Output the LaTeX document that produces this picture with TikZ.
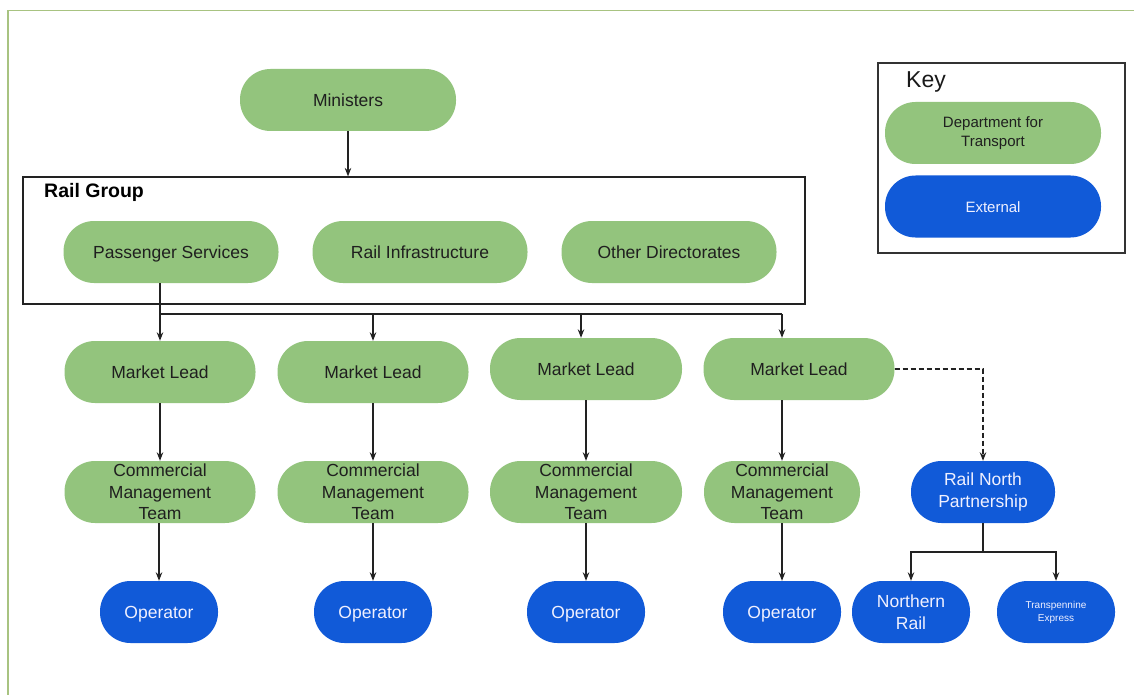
\documentclass[tikz,border=0pt]{standalone}
\usepackage{fontspec}
\setmainfont{Liberation Sans}
\usetikzlibrary{arrows.meta,calc}
\definecolor{dftgreen}{HTML}{93C47D}
\definecolor{extblue}{HTML}{115AD8}
\definecolor{framegreen}{HTML}{A8C381}
\definecolor{ink}{HTML}{222222}
\newcommand{\fsz}[2]{\fontsize{#1}{#2}\selectfont}
\tikzset{
  pill/.style={rectangle, rounded corners=30.5pt, draw=none, inner sep=0pt,
    align=center, minimum height=62pt},
  dft/.style={pill, fill=dftgreen, text=black!88, font=\fsz{17.5}{21.5}},
  ext/.style={pill, fill=extblue, text=white!94!blue, font=\fsz{17.5}{21.5}},
  oneline/.style={text height=14.4pt, text depth=1.9pt},
  conn/.style={draw=ink, line width=1.2pt, -{Stealth[length=8.5pt,width=6.5pt]}},
  plain/.style={draw=ink, line width=1.2pt},
  boxframe/.style={rectangle, draw=ink, line width=1.2pt, inner sep=0pt},
}
\begin{document}
\begin{tikzpicture}[x=1pt,y=-1pt]
  \fill[white] (0,0) rectangle (1134,695);
  \useasboundingbox (0,0) rectangle (1134,695);
  % page frame
  \draw[framegreen, line width=1.5pt] (8,695) -- (8,10.5) -- (1134,10.5);

  % top level
  \node[dft, oneline, minimum width=216pt] (min) at (348,100) {Ministers};

  % Rail Group container
  \node[boxframe, minimum width=782pt, minimum height=127pt] (rg) at (414,240.5) {};
  \node[anchor=west, font=\bfseries\fsz{19.5}{22}, text=black, inner sep=0pt] (rgl) at (44,192) {Rail Group};
  \node[dft, oneline, minimum width=215pt] (ps) at (171,252) {Passenger Services};
  \node[dft, oneline, minimum width=215pt] (ri) at (420,252) {Rail Infrastructure};
  \node[dft, oneline, minimum width=215pt] (od) at (669,252) {Other Directorates};

  % market leads
  \node[dft, oneline, minimum width=191pt] (ml1) at (160,372) {Market Lead};
  \node[dft, oneline, minimum width=191pt] (ml2) at (373,372) {Market Lead};
  \node[dft, oneline, minimum width=192pt] (ml3) at (586,369) {Market Lead};
  \node[dft, oneline, minimum width=191pt] (ml4) at (799,369) {Market Lead};

  % commercial management teams
  \node[dft, minimum width=191pt] (cm1) at (160,492) {Commercial\\Management\\Team};
  \node[dft, minimum width=191pt] (cm2) at (373,492) {Commercial\\Management\\Team};
  \node[dft, minimum width=192pt] (cm3) at (586,492) {Commercial\\Management\\Team};
  \node[dft, minimum width=156pt] (cm4) at (782,492) {Commercial\\Management\\Team};

  % operators
  \node[ext, oneline, minimum width=118pt] (op1) at (159,612) {Operator};
  \node[ext, oneline, minimum width=118pt] (op2) at (373,612) {Operator};
  \node[ext, oneline, minimum width=118pt] (op3) at (586,612) {Operator};
  \node[ext, oneline, minimum width=118pt] (op4) at (782,612) {Operator};

  % Rail North branch
  \node[ext, minimum width=144pt] (rnp) at (983,492) {Rail North\\Partnership};
  \node[ext, minimum width=118pt] (nr) at (911,612) {Northern\\Rail};
  \node[ext, minimum width=118pt, font=\fsz{10}{13}] (te) at (1056,612) {Transpennine\\Express};

  % key
  \node[boxframe, draw=black!80, minimum width=247pt, minimum height=190pt] (key) at (1001.5,158) {};
  \node[anchor=west, font=\fsz{23}{25}, text=black!90, inner sep=0pt] (keyt) at (906,82) {Key};
  \node[dft, minimum width=216pt, font=\fsz{15}{19}] (kdft) at (993,133) {Department for\\Transport};
  \node[ext, minimum width=216pt, font=\fsz{15}{19}, text height=12.6pt, text depth=1.4pt] (kext) at (993,206.5) {External};

  % connectors
  \draw[conn] (min.south) -- (rg.north -| min.south);
  \coordinate (br) at (ml1.north |- 0,314);
  \draw[conn] (ps.south -| ml1.north) -- (ml1.north);
  \draw[plain] (br) -- (br -| cm4.north);
  \draw[conn] (br -| ml2.north) -- (ml2.north);
  \draw[conn] (br -| 581,0) -- (ml3.north -| 581,0);
  \draw[conn] (br -| cm4.north) -- (ml4.north -| cm4.north);

  \draw[conn] (ml1.south) -- (cm1.north);
  \draw[conn] (ml2.south) -- (cm2.north);
  \draw[conn] (ml3.south) -- (cm3.north);
  \draw[conn] (ml4.south -| cm4.north) -- (cm4.north);

  \draw[conn] (cm1.south -| op1.north) -- (op1.north);
  \draw[conn] (cm2.south) -- (op2.north);
  \draw[conn] (cm3.south) -- (op3.north);
  \draw[conn] (cm4.south) -- (op4.north);

  \draw[conn, dashed, dash pattern=on 5pt off 3pt] (ml4.east) -| (rnp.north);
  \coordinate (rj) at (rnp.south |- 0,552);
  \draw[plain] (rnp.south) -- (rj);
  \draw[conn] (rj) -| (nr.north);
  \draw[conn] (rj) -| (te.north);
\end{tikzpicture}
\end{document}
